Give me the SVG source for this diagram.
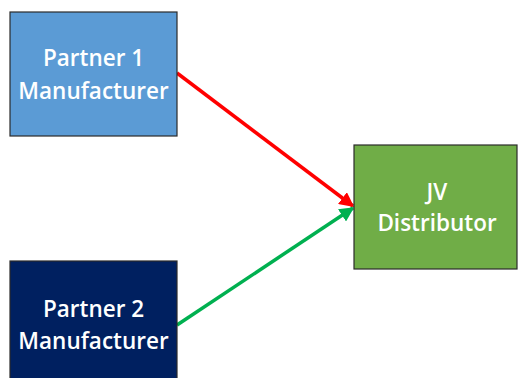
<svg xmlns="http://www.w3.org/2000/svg" width="518" height="378" viewBox="0 0 518 378">
<style>
.box{stroke:#2b2b2b;stroke-width:1.2}
.lbl{font-family:"Open Sans","Liberation Sans",sans-serif;font-weight:600;font-size:22.5px;fill:#ffffff;text-anchor:middle}
.con{fill:none;stroke-width:3.5}
</style>
<defs>
<marker id="ar" viewBox="0 0 10 10" refX="9" refY="5" markerWidth="4.2" markerHeight="4.2" orient="auto" markerUnits="strokeWidth"><path d="M0,0 L10,5 L0,10 z" fill="#ff0000"/></marker>
<marker id="ag" viewBox="0 0 10 10" refX="9" refY="5" markerWidth="4.2" markerHeight="4.2" orient="auto" markerUnits="strokeWidth"><path d="M0,0 L10,5 L0,10 z" fill="#00b050"/></marker>
</defs>
<rect width="518" height="378" fill="#ffffff"/>
<g id="connectors">
<line class="con" x1="177" y1="73" x2="353" y2="206" stroke="#ff0000" marker-end="url(#ar)"/>
<line class="con" x1="177" y1="325" x2="353" y2="208" stroke="#00b050" marker-end="url(#ag)"/>
</g>
<g id="partner1">
<rect class="box" x="10" y="12" width="167" height="124" fill="#5b9bd5"/>
<text class="lbl" x="93.5" y="66">Partner 1</text>
<text class="lbl" x="93.5" y="99">Manufacturer</text>
</g>
<g id="partner2">
<rect class="box" x="10" y="261" width="167" height="124" fill="#002060"/>
<text class="lbl" x="93.5" y="317">Partner 2</text>
<text class="lbl" x="93.5" y="349">Manufacturer</text>
</g>
<g id="jv">
<rect class="box" x="354" y="145" width="163" height="124" fill="#70ad47"/>
<text class="lbl" x="437" y="200">JV</text>
<text class="lbl" x="437" y="231">Distributor</text>
</g>
</svg>
